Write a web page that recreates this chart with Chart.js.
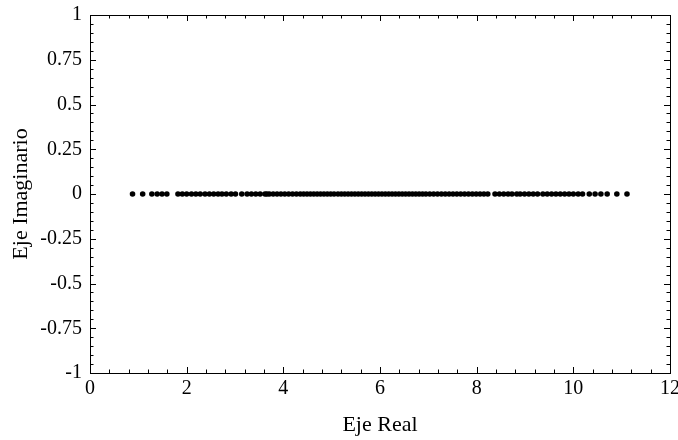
<!DOCTYPE html>
<html lang="es">
<head>
<meta charset="UTF-8" />
<title>Eje Real / Eje Imaginario</title>
<script src="https://cdn.jsdelivr.net/npm/chart.js@4.4.1/dist/chart.umd.min.js"></script>
<style>
  html, body { margin: 0; padding: 0; background: #fff; }
  #wrap { width: 678px; height: 440px; }
</style>
</head>
<body>
<div id="wrap"><canvas id="plot" width="678" height="440"></canvas></div>
<script>
// real parts of the eigenvalues (all of them lie on the real axis)
const realParts = [
  0.88, 1.09, 1.28, 1.39, 1.49, 1.59,
  1.82, 1.91, 2.00, 2.10, 2.19, 2.28, 2.38, 2.47, 2.56, 2.65,
  2.73, 2.82, 2.92, 3.01, 3.14,
  3.25, 3.34, 3.43, 3.52, 3.62, 3.66,
  3.71, 3.79, 3.87, 3.95, 4.03, 4.11, 4.19, 4.27, 4.35, 4.42, 4.49,
  4.56, 4.63, 4.70, 4.77, 4.84, 4.91, 4.98, 5.05,
  5.13, 5.20, 5.27, 5.34, 5.41, 5.48, 5.55, 5.62, 5.69, 5.76, 5.83, 5.90, 5.97, 6.04, 6.11,
  6.18, 6.25, 6.32, 6.39, 6.46, 6.53, 6.60, 6.67, 6.74, 6.81, 6.88,
  6.95, 7.03, 7.11, 7.19, 7.27, 7.35, 7.43, 7.51, 7.59, 7.67, 7.75, 7.83, 7.91, 7.99, 8.07, 8.15, 8.23,
  8.38, 8.47, 8.56, 8.65, 8.73, 8.83,
  8.90, 8.99, 9.08, 9.17, 9.26,
  9.37, 9.46, 9.55, 9.64, 9.73, 9.82, 9.91, 10.00, 10.10, 10.19,
  10.33, 10.45, 10.57, 10.70,
  10.90, 11.11
];
const imagPart = 0;

const xTicks = [0, 2, 4, 6, 8, 10, 12];
const yTicks = [-1, -0.75, -0.5, -0.25, 0, 0.25, 0.5, 0.75, 1];
const xMinorStep = 0.4;
const yMinorStep = 0.05;

const serif = "'Liberation Serif', 'Times New Roman', serif";

// Mathematica-style frame: box around the plot, ticks pointing inward on all four sides
const frameTicks = {
  id: 'frameTicks',
  afterDraw(chart) {
    const { ctx, chartArea: a, scales: { x, y } } = chart;
    ctx.save();
    ctx.strokeStyle = '#000';
    ctx.lineWidth = 1;
    ctx.strokeRect(Math.round(a.left) + 0.5, Math.round(a.top) + 0.5,
      Math.round(a.right - a.left), Math.round(a.bottom - a.top));

    ctx.beginPath();
    const nx = Math.round((x.max - x.min) / xMinorStep);
    for (let i = 0; i <= nx; i++) {
      const v = x.min + i * xMinorStep;
      const major = xTicks.some(t => Math.abs(t - v) < 1e-6);
      const len = major ? 6 : 3.5;
      const px = Math.round(x.getPixelForValue(v)) + 0.5;
      ctx.moveTo(px, a.bottom); ctx.lineTo(px, a.bottom - len);
      ctx.moveTo(px, a.top); ctx.lineTo(px, a.top + len);
    }
    const ny = Math.round((y.max - y.min) / yMinorStep);
    for (let i = 0; i <= ny; i++) {
      const v = y.min + i * yMinorStep;
      const major = yTicks.some(t => Math.abs(t - v) < 1e-6);
      const len = major ? 6 : 3.5;
      const py = Math.round(y.getPixelForValue(v)) + 0.5;
      ctx.moveTo(a.left, py); ctx.lineTo(a.left + len, py);
      ctx.moveTo(a.right, py); ctx.lineTo(a.right - len, py);
    }
    ctx.stroke();
    ctx.restore();
  }
};

new Chart(document.getElementById('plot'), {
  type: 'scatter',
  data: {
    datasets: [{
      data: realParts.map(re => ({ x: re, y: imagPart })),
      backgroundColor: '#000',
      borderColor: '#000',
      borderWidth: 0,
      pointRadius: 2.8,
      pointHoverRadius: 2.8
    }]
  },
  options: {
    responsive: false,
    animation: false,
    events: [],
    layout: { padding: { left: 0, right: 8, top: 15, bottom: 0 } },
    plugins: { legend: { display: false }, tooltip: { enabled: false } },
    scales: {
      x: {
        type: 'linear',
        min: 0,
        max: 12,
        grid: { display: false, drawTicks: false },
        border: { display: false },
        afterBuildTicks: s => { s.ticks = xTicks.map(v => ({ value: v })); },
        afterFit: s => { s.height = 67; s.paddingLeft = 0; s.paddingRight = 0; },
        ticks: {
          color: '#000',
          padding: 4,
          maxRotation: 0,
          autoSkip: false,
          font: { family: serif, size: 20 },
          callback: v => String(v)
        },
        title: {
          display: true,
          text: 'Eje Real',
          color: '#000',
          font: { family: serif, size: 22 },
          padding: { top: 0, bottom: 2 }
        }
      },
      y: {
        type: 'linear',
        min: -1,
        max: 1,
        grid: { display: false, drawTicks: false },
        border: { display: false },
        afterBuildTicks: s => { s.ticks = yTicks.map(v => ({ value: v })); },
        afterFit: s => { s.width = 90; s.paddingTop = 0; s.paddingBottom = 0; },
        ticks: {
          color: '#000',
          padding: 8,
          autoSkip: false,
          font: { family: serif, size: 20 },
          callback: v => String(v)
        },
        title: {
          display: true,
          text: 'Eje Imaginario',
          color: '#000',
          font: { family: serif, size: 22 },
          padding: { top: 8, bottom: 0 }
        }
      }
    }
  },
  plugins: [frameTicks]
});
</script>
</body>
</html>
